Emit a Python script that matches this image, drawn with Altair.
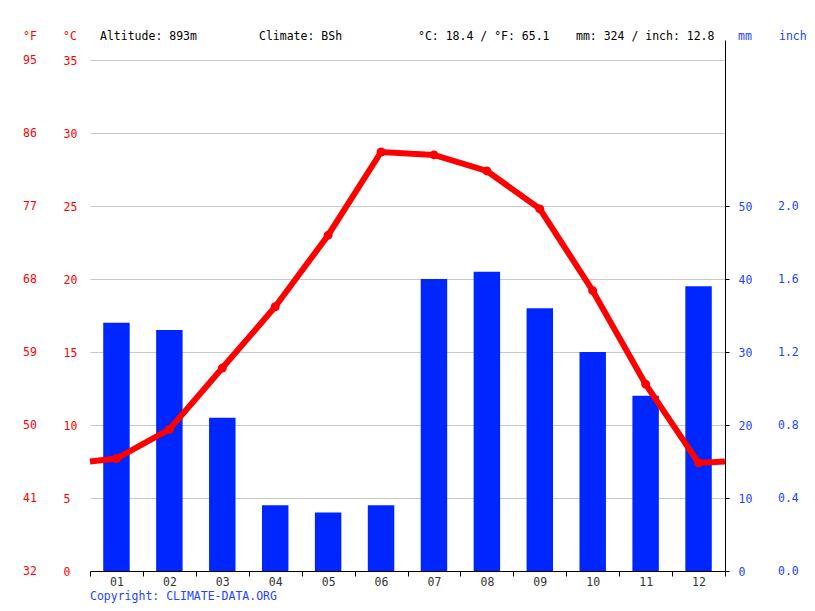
import altair as alt
import pandas as pd

FONT = "DejaVu Sans Mono"
FS = 11.5
RED = "#ff0000"
BLUE = "#0026ff"
LBLUE = "#2244ff"

# ---- data ----
months = ["01", "02", "03", "04", "05", "06", "07", "08", "09", "10", "11", "12"]
precip_mm = [34, 33, 21, 9, 8, 9, 40, 41, 36, 30, 24, 39]
temp_c = [7.7, 9.7, 13.9, 18.1, 23.0, 28.7, 28.5, 27.4, 24.8, 19.2, 12.8, 7.4]
edge_temp_c = [7.5, 7.5]  # line value at left / right plot edges

c_ticks = [0, 5, 10, 15, 20, 25, 30, 35]
f_labels = ["32", "41", "50", "59", "68", "77", "86", "95"]
mm_ticks = [0, 10, 20, 30, 40, 50]
inch_labels = ["0.0", "0.4", "0.8", "1.2", "1.6", "2.0"]

header_texts = ["°F", "°C", "Altitude: 893m", "Climate: BSh",
                "°C: 18.4 / °F: 65.1", "mm: 324 / inch: 12.8", "mm", "inch"]
copyright_text = "Copyright: CLIMATE-DATA.ORG"

# ---- layout / style (not data) ----
W, H = 635, 531
T_MAX = 36.37
MM_MAX = 72.74
header_x = [-67, -27, 10, 169, 328, 486, 648, 689]
header_col = [RED, RED, "#000000", "#000000", "#000000", "#000000", LBLUE, LBLUE]

bars_df = pd.DataFrame({"month": months, "mm": precip_mm})
line_df = pd.DataFrame({
    "pos": [0.0] + [i + 0.5 for i in range(12)] + [12.0],
    "t": [edge_temp_c[0]] + temp_c + [edge_temp_c[1]],
})
pts_df = pd.DataFrame({"pos": [i + 0.5 for i in range(12)], "t": temp_c})
f_df = pd.DataFrame({"c": c_ticks, "f": f_labels})
inch_df = pd.DataFrame({"mm": mm_ticks, "inch": inch_labels})

temp_scale = alt.Scale(domain=[0, T_MAX], nice=False, zero=True)
mm_scale = alt.Scale(domain=[0, MM_MAX], nice=False, zero=True)
pos_scale = alt.Scale(domain=[0, 12], nice=False, zero=False)

bars = alt.Chart(bars_df).mark_bar(color=BLUE, width=alt.RelativeBandSize(0.5)).encode(
    x=alt.X("month:O", sort=months,
            scale=alt.Scale(paddingInner=0, paddingOuter=0),
            axis=alt.Axis(title=None, labelAngle=0, tickBand="extent",
                          domainColor="#000000", tickColor="#000000", tickSize=5,
                          labelColor="#333333", labelPadding=0, grid=False)),
    y=alt.Y("mm:Q", scale=mm_scale,
            axis=alt.Axis(orient="right", title=None, values=mm_ticks, grid=False,
                          domainColor="#000000", tickColor="#000000", tickSize=4,
                          labelPadding=9, labelAlign="left", labelColor=LBLUE,
                          labelOffset=1, labelFlush=False)),
)

line = alt.Chart(line_df).mark_line(color=RED, strokeWidth=6).encode(
    x=alt.X("pos:Q", scale=pos_scale, axis=None),
    y=alt.Y("t:Q", scale=temp_scale,
            axis=alt.Axis(orient="left", title=None, values=c_ticks, grid=True,
                          gridColor="#c8c8c8", gridWidth=1, domain=False, ticks=False,
                          tickSize=0, labelPadding=27, labelAlign="left",
                          labelColor=RED, labelOffset=1, labelFlush=False)),
)

pts = alt.Chart(pts_df).mark_circle(color=RED, size=80, opacity=1).encode(
    x=alt.X("pos:Q", scale=pos_scale, axis=None),
    y=alt.Y("t:Q", scale=temp_scale, axis=None),
)

f_text = alt.Chart(f_df).mark_text(font=FONT, fontSize=FS, color=RED,
                                   align="left", baseline="middle", dy=1).encode(
    x=alt.value(-67),
    y=alt.Y("c:Q", scale=temp_scale, axis=None),
    text="f:N",
)

inch_text = alt.Chart(inch_df).mark_text(font=FONT, fontSize=FS, color=LBLUE,
                                         align="left", baseline="middle", dy=1).encode(
    x=alt.value(688),
    y=alt.Y("mm:Q", scale=mm_scale, axis=None),
    text="inch:N",
)

layers = [bars, line, pts, f_text, inch_text]
for txt, hx, col in zip(header_texts, header_x, header_col):
    layers.append(
        alt.Chart(pd.DataFrame({"s": [txt]})).mark_text(
            font=FONT, fontSize=FS, color=col, align="left", baseline="middle"
        ).encode(x=alt.value(hx), y=alt.value(-3), text="s:N")
    )
layers.append(
    alt.Chart(pd.DataFrame({"s": [copyright_text]})).mark_text(
        font=FONT, fontSize=FS, color=LBLUE, align="left", baseline="middle"
    ).encode(x=alt.value(0), y=alt.value(557), text="s:N")
)

chart = alt.layer(*layers).resolve_scale(
    x="independent", y="independent"
).properties(
    width=W, height=H,
    autosize=alt.AutoSizeParams(type="none"),
    padding={"left": 82, "top": 32, "right": 82, "bottom": 32},
    background="#ffffff",
).configure_view(stroke=None).configure_axis(
    labelFont=FONT, labelFontSize=FS
)

chart.save("out.html", embed_options={"renderer": "svg", "actions": False})
